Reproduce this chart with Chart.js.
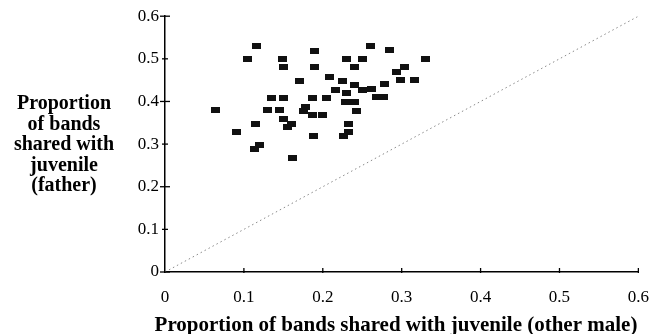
<!DOCTYPE html>
<html>
<head>
<meta charset="utf-8">
<script src="https://cdn.jsdelivr.net/npm/chart.js@4/dist/chart.umd.min.js"></script>
<style>
  html, body { margin: 0; padding: 0; background: #fff; }
  #wrap { width: 664px; height: 334px; }
</style>
</head>
<body>
<div id="wrap"><canvas id="pairs"></canvas></div>
<script>
// proportion shared with other male (x) and with father (y)
var otherMale = [0.064, 0.090, 0.105, 0.116, 0.115, 0.120, 0.113, 0.130, 0.145, 0.135,
                 0.150, 0.150, 0.160, 0.155, 0.161, 0.149, 0.150, 0.171, 0.175, 0.178,
                 0.187, 0.200, 0.187, 0.205, 0.188, 0.189, 0.189, 0.208, 0.216, 0.225,
                 0.230, 0.229, 0.240, 0.232, 0.233, 0.226, 0.243, 0.230, 0.250, 0.240,
                 0.240, 0.250, 0.261, 0.285, 0.330, 0.303, 0.293, 0.316, 0.298, 0.278,
                 0.262, 0.277, 0.268];
var father    = [0.379, 0.328, 0.499, 0.529, 0.347, 0.299, 0.289, 0.379, 0.379, 0.408,
                 0.408, 0.359, 0.347, 0.339, 0.268, 0.499, 0.480, 0.449, 0.377, 0.388,
                 0.368, 0.368, 0.408, 0.408, 0.318, 0.519, 0.480, 0.458, 0.427, 0.449,
                 0.419, 0.398, 0.398, 0.347, 0.328, 0.318, 0.377, 0.499, 0.499, 0.480,
                 0.439, 0.427, 0.530, 0.520, 0.500, 0.480, 0.470, 0.450, 0.450, 0.440,
                 0.430, 0.410, 0.410];
var tickValues = [0, 0.1, 0.2, 0.3, 0.4, 0.5, 0.6];
var yTitle = ["Proportion", "of bands", "shared with", "juvenile", "(father)"];
var xTitle = "Proportion of bands shared with juvenile (other male)";

var points = otherMale.map(function (x, i) { return { x: x, y: father[i] }; });

var mark = document.createElement("canvas");
mark.width = 9;
mark.height = 6;
var mctx = mark.getContext("2d");
mctx.fillStyle = "#111";
mctx.fillRect(0, 0, 9, 6);

var serif = "'Liberation Serif', 'Times New Roman', serif";

var extras = {
  id: "extras",
  afterDraw: function (chart) {
    var ctx = chart.ctx;
    var xs = chart.scales.x, ys = chart.scales.y;
    var left = chart.chartArea.left, bottom = chart.chartArea.bottom;
    ctx.save();
    ctx.strokeStyle = "#000";
    ctx.lineWidth = 1.3;
    tickValues.forEach(function (v, i) {
      var py = ys.getPixelForValue(v);
      var w = (i % 2 === 0) ? 5 : 3;
      ctx.beginPath();
      ctx.moveTo(left - w, py);
      ctx.lineTo(left + w, py);
      ctx.stroke();
      if (i > 0) {
        var px = xs.getPixelForValue(v);
        ctx.beginPath();
        ctx.moveTo(px, bottom - 4);
        ctx.lineTo(px, bottom + 1);
        ctx.stroke();
      }
    });
    ctx.fillStyle = "#000";
    ctx.font = "bold 20px " + serif;
    ctx.textAlign = "center";
    ctx.textBaseline = "middle";
    yTitle.forEach(function (line, i) {
      ctx.fillText(line, 64, 104 + i * 20.5);
    });
    ctx.font = "bold 21px " + serif;
    ctx.fillText(xTitle, 396, 326);
    ctx.restore();
  }
};

new Chart(document.getElementById("pairs"), {
  type: "scatter",
  data: {
    datasets: [{
      label: "equal line",
      type: "line",
      data: [{ x: 0, y: 0 }, { x: 0.6, y: 0.6 }],
      borderColor: "#8a8a8a",
      borderWidth: 1,
      borderDash: [1.5, 3],
      pointRadius: 0,
      fill: false
    }, {
      label: "pairs",
      data: points,
      pointStyle: mark,
      pointRadius: 5
    }]
  },
  options: {
    responsive: true,
    maintainAspectRatio: false,
    animation: false,
    layout: { padding: { top: 15, right: 18, left: 0, bottom: 0 } },
    plugins: { legend: { display: false }, tooltip: { enabled: false } },
    scales: {
      x: {
        type: "linear",
        min: 0, max: 0.6,
        ticks: { stepSize: 0.1, color: "#000", padding: 15, font: { family: serif, size: 17 } },
        grid: { display: false, drawTicks: false },
        border: { display: true, color: "#000", width: 1.5 },
        afterFit: function (s) { s.height = 62; }
      },
      y: {
        type: "linear",
        min: 0, max: 0.6,
        ticks: { stepSize: 0.1, color: "#000", padding: 6, font: { family: serif, size: 17 } },
        grid: { display: false, drawTicks: false },
        border: { display: true, color: "#000", width: 1.5 },
        afterFit: function (s) { s.width = 165; }
      }
    }
  },
  plugins: [extras]
});
</script>
</body>
</html>
